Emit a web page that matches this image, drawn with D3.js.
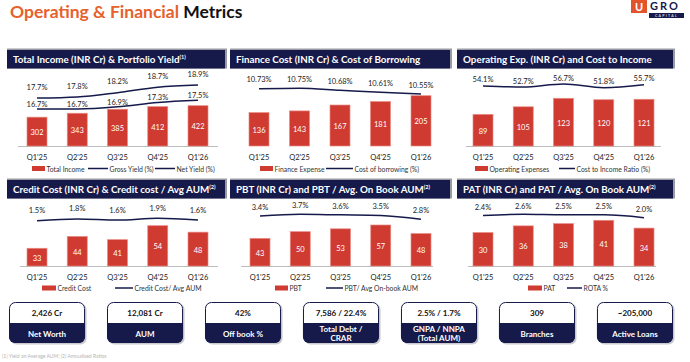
<!DOCTYPE html>
<meta charset="utf-8">
<style>
  body { margin:0; background:#fff; }
  svg text { font-family: Lato, "Open Sans", sans-serif; }
  .hdr { fill:#fff; font-weight:700; font-size:9.8px; }
  .val { fill:#fff; font-size:7.5px; }
  .pct { fill:#222; font-size:7.5px; }
  .tick { fill:#222; font-size:7.5px; }
  .leg { fill:#333; font-size:6.8px; }
  .kv { fill:#111; font-size:8px; font-weight:700; }
  .kl { fill:#fff; font-size:8px; font-weight:700; }
</style>
<body>
<script src="https://cdn.jsdelivr.net/npm/d3@7"></script>
<script>

  var quarters = ["Q1'25", "Q2'25", "Q3'25", "Q4'25", "Q1'26"];

  var totalIncome = [302, 343, 385, 412, 422];
  var grossYield = [17.7, 17.8, 18.2, 18.7, 18.9];
  var netYield = [16.7, 16.7, 16.9, 17.3, 17.5];

  var financeExpense = [136, 143, 167, 181, 205];
  var costOfBorrowing = [10.73, 10.75, 10.68, 10.61, 10.55];

  var opex = [89, 105, 123, 120, 121];
  var costToIncome = [54.1, 52.7, 56.7, 51.8, 55.7];

  var creditCost = [33, 44, 41, 54, 48];
  var creditCostAum = [1.5, 1.8, 1.6, 1.9, 1.6];

  var pbt = [43, 50, 53, 57, 48];
  var pbtAum = [3.4, 3.7, 3.6, 3.5, 2.8];

  var pat = [30, 36, 38, 41, 34];
  var rota = [2.4, 2.6, 2.5, 2.5, 2.0];

  var kpiValues = ["2,426 Cr", "12,081 Cr", "42%", "7,586 / 22.4%", "2.5% / 1.7%", "309", "~205,000"];
  var kpiLabels = [["Net Worth"], ["AUM"], ["Off book %"], ["Total Debt /", "CRAR"], ["GNPA / NNPA", "(Total AUM)"], ["Branches"], ["Active Loans"]];

  var navy = "#161a4b", red = "#cf3a31";

  var panels = [
    {title: "Total Income (INR Cr) & Portfolio Yield", sup: "(1)", x: 7, y: 50, w: 218,
     bars: totalIncome, bDom: [0, 422], base: 146, bTop: 105.7,
     lines: [grossYield, netYield], lDom: [16.7, 18.9], lRng: [109, 85], dy: [-11, -4.5], fmt: d3.format(".1f"),
     cx: [37, 198], axis: [18, 218], legY: 168.5,
     legend: [["bar", 32, 13, "Total Income"], ["line", 88, 20, "Gross Yield (%)"], ["line", 155, 20, "Net Yield (%)"]]},
    {title: "Finance Cost (INR Cr) & Cost of Borrowing", sup: "", x: 230, y: 50, w: 220,
     bars: financeExpense, bDom: [0, 205], base: 146, bTop: 95.7,
     lines: [costOfBorrowing], lDom: [10.55, 10.75], lRng: [94, 88.3], dy: [-9], fmt: d3.format(".2f"),
     cx: [259, 421], axis: null, legY: 168.5,
     legend: [["bar", 260, 13, "Finance Expense"], ["line", 326, 27, "Cost of borrowing (%)"]]},
    {title: "Operating Exp. (INR Cr) and Cost to Income", sup: "", x: 457, y: 50, w: 216,
     bars: opex, bDom: [22, 123], base: 146, bTop: 98.3,
     lines: [costToIncome], lDom: [51.8, 56.7], lRng: [87.7, 84], dy: [-6], fmt: d3.format(".1f"),
     cx: [483, 644], axis: [466, 661], legY: 168.5,
     legend: [["bar", 475, 13, "Operating Expenses"], ["line", 559, 16, "Cost to Income Ratio (%)"]]},
    {title: "Credit Cost (INR Cr) & Credit cost / Avg AUM", sup: "(2)", x: 7, y: 180, w: 218,
     bars: creditCost, bDom: [16.5, 54], base: 266, bTop: 225.7,
     lines: [creditCostAum], lDom: [1.5, 1.9], lRng: [220.7, 218.3], dy: [-10], fmt: d3.format(".1f"),
     cx: [37, 198], axis: [20, 218], legY: 288,
     legend: [["bar", 42, 14, "Credit Cost"], ["line", 115, 18, "Credit Cost/ Avg AUM"]]},
    {title: "PBT (INR Cr) and PBT / Avg. On Book AUM", sup: "(2)", x: 230, y: 180, w: 220,
     bars: pbt, bDom: [14, 57], base: 266, bTop: 225,
     lines: [pbtAum], lDom: [2.8, 3.7], lRng: [219.3, 214.3], dy: [-8.5], fmt: d3.format(".1f"),
     cx: [260, 421], axis: [241, 433], legY: 288,
     legend: [["bar", 275, 13, "PBT"], ["line", 326, 17, "PBT/ Avg On-book AUM"]]},
    {title: "PAT (INR Cr) and PAT / Avg. On Book AUM", sup: "(2)", x: 457, y: 180, w: 216,
     bars: pat, bDom: [0, 41], base: 266, bTop: 220.3,
     lines: [rota], lDom: [2.0, 2.6], lRng: [217.7, 214.3], dy: [-8], fmt: d3.format(".1f"),
     cx: [483, 644], axis: [468, 656], legY: 288,
     legend: [["bar", 528, 14, "PAT"], ["line", 567, 15, "ROTA %"]]}
  ];

  var svg = d3.select("body").append("svg").attr("width", 690).attr("height", 362);

  // title
  var t = svg.append("text").attr("x", 10).attr("y", 18)
      .style("font-size", "17.5px").style("font-weight", 700);
  t.append("tspan").attr("fill", "#e6612b").text("Operating & Financial ");
  t.append("tspan").attr("fill", "#111").text("Metrics");

  // logo
  var logo = svg.append("g").attr("transform", "translate(631,0)");
  logo.append("rect").attr("width", 16).attr("height", 13).attr("fill", "#e2552a");
  logo.append("text").attr("x", 8).attr("y", 10.5).attr("text-anchor", "middle")
      .attr("fill", "#fff").style("font-size", "11px").style("font-weight", 700).text("U");
  logo.append("text").attr("x", 19).attr("y", 10).attr("fill", navy)
      .style("font-size", "11px").style("font-weight", 700).style("letter-spacing", "2px").text("GRO");
  logo.append("rect").attr("x", 18).attr("y", 13).attr("width", 35).attr("height", 5).attr("fill", navy);
  logo.append("text").attr("x", 35.5).attr("y", 17).attr("text-anchor", "middle").attr("fill", "#fff")
      .style("font-size", "3.6px").style("letter-spacing", "1.3px").text("CAPITAL");

  panels.forEach(function(p) {
    var g = svg.append("g");

    // header
    g.append("rect").attr("x", p.x).attr("y", p.y - 1.5).attr("width", p.w + 2).attr("height", 20)
        .attr("fill", "#9a9aa3");
    g.append("rect").attr("x", p.x).attr("y", p.y).attr("width", p.w).attr("height", 18.5).attr("fill", navy);
    var ht = g.append("text").attr("class", "hdr").attr("x", p.x + 6).attr("y", p.y + 12.8);
    ht.append("tspan").text(p.title);
    if (p.sup) ht.append("tspan").attr("dy", -3.5).style("font-size", "5.5px").text(p.sup);

    var x = d3.scalePoint().domain(quarters).range(p.cx);
    var y = d3.scaleLinear().domain([p.bDom[0], d3.max(p.bars)]).range([p.base, p.bTop]);
    var yl = d3.scaleLinear().domain(p.lDom).range(p.lRng);
    var bw = 20;

    if (p.axis) {
      g.append("line").attr("x1", p.axis[0]).attr("x2", p.axis[1])
          .attr("y1", p.base + 0.5).attr("y2", p.base + 0.5).attr("stroke", "#bdbdbd");
    }

    g.selectAll(".bar").data(p.bars).join("rect")
        .attr("x", (d, i) => x(quarters[i]) - bw / 2)
        .attr("y", d => y(d))
        .attr("width", bw)
        .attr("height", d => p.base - y(d))
        .attr("fill", red)
        .attr("stroke", "#e98b84").attr("stroke-width", 0.7);

    g.selectAll(".val").data(p.bars).join("text").attr("class", "val")
        .attr("x", (d, i) => x(quarters[i]))
        .attr("y", d => (y(d) + p.base) / 2 + 1)
        .attr("text-anchor", "middle").attr("dominant-baseline", "central")
        .text(d => d);

    var line = d3.line()
        .x((d, i) => x(quarters[i]))
        .y(d => yl(d))
        .curve(d3.curveMonotoneX);

    p.lines.forEach(function(s, k) {
      g.append("path").attr("d", line(s)).attr("fill", "none")
          .attr("stroke", navy).attr("stroke-width", 1.5);
      g.selectAll(null).data(s).join("text").attr("class", "pct")
          .attr("x", (d, i) => x(quarters[i]))
          .attr("y", d => yl(d) + p.dy[k])
          .attr("text-anchor", "middle").attr("dominant-baseline", "central")
          .text(d => p.fmt(d) + "%");
    });

    g.selectAll(".tick").data(quarters).join("text").attr("class", "tick")
        .attr("x", d => x(d)).attr("y", p.base + 11)
        .attr("text-anchor", "middle").attr("dominant-baseline", "central")
        .text(d => d);

    p.legend.forEach(function(l) {
      if (l[0] == "bar") {
        g.append("rect").attr("x", l[1]).attr("y", p.legY - 2.5).attr("width", l[2]).attr("height", 5)
            .attr("fill", red);
      } else {
        g.append("line").attr("x1", l[1]).attr("x2", l[1] + l[2])
            .attr("y1", p.legY).attr("y2", p.legY).attr("stroke", navy).attr("stroke-width", 1.5);
      }
      g.append("text").attr("class", "leg").attr("x", l[1] + l[2] + 1.5).attr("y", p.legY)
          .attr("dominant-baseline", "central").text(l[3]);
    });
  });

  // KPI boxes
  var bx = d3.scaleBand().domain(d3.range(kpiValues.length)).range([9, 673]).paddingInner(0.224);
  var by = 302, bh = 41, split = 21, r = 6;

  var kpi = svg.selectAll(".kpi").data(kpiValues).join("g")
      .attr("transform", (d, i) => "translate(" + bx(i) + "," + by + ")");
  var w = bx.bandwidth();

  kpi.append("rect").attr("x", 1.5).attr("y", 1.5).attr("width", w).attr("height", bh)
      .attr("rx", r).attr("fill", "#c9c9cf");
  kpi.append("rect").attr("width", w).attr("height", bh).attr("rx", r).attr("fill", "#fff");
  kpi.append("path")
      .attr("d", "M0," + split + "H" + w + "V" + (bh - r) + "A" + r + "," + r + " 0 0 1 " + (w - r) + "," + bh +
            "H" + r + "A" + r + "," + r + " 0 0 1 0," + (bh - r) + "Z")
      .attr("fill", navy);
  kpi.append("rect").attr("x", 0.5).attr("y", 0.5).attr("width", w - 1).attr("height", bh - 1).attr("rx", r)
      .attr("fill", "none").attr("stroke", navy).attr("stroke-width", 1);
  kpi.append("text").attr("class", "kv").attr("x", w / 2).attr("y", 11)
      .attr("text-anchor", "middle").attr("dominant-baseline", "central").text(d => d);
  kpi.each(function(d, i) {
    var lines = kpiLabels[i];
    d3.select(this).selectAll(".kl").data(lines).join("text").attr("class", "kl")
        .attr("x", w / 2)
        .attr("y", (s, j) => lines.length == 1 ? 31.5 : 27 + j * 9)
        .attr("text-anchor", "middle").attr("dominant-baseline", "central").text(s => s);
  });

  svg.append("text").attr("x", 2).attr("y", 358).attr("fill", "#b5b5b5").style("font-size", "5px")
      .text("(1) Yield on Average AUM;   (2) Annualised Ratios");

</script>
</body>
</html>
